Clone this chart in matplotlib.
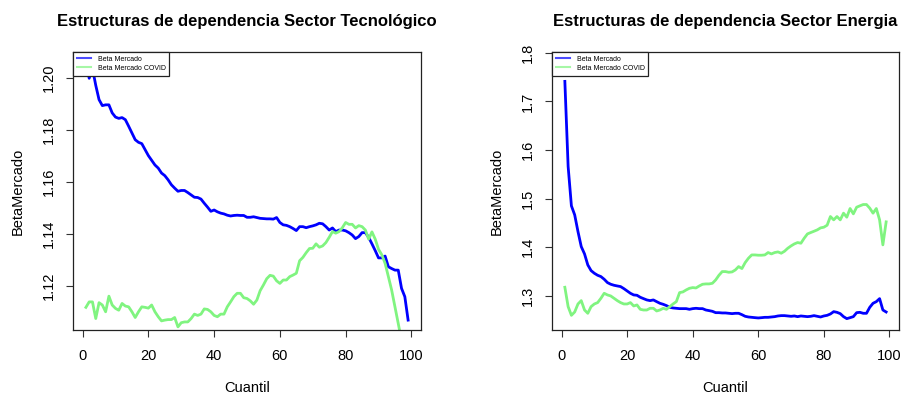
import numpy as np
import matplotlib
matplotlib.use("Agg")
import matplotlib.pyplot as plt

plt.rcParams["font.family"] = ["Liberation Sans", "DejaVu Sans"]

cuantil = np.arange(1, 100)

# Sector Tecnológico: market beta by quantile (full sample vs. COVID period)
tec_beta = [
    1.2063, 1.1997, 1.2035, 1.1970, 1.1915, 1.1892, 1.1895, 1.1895, 1.1864, 1.1848,
    1.1843, 1.1846, 1.1838, 1.1813, 1.1787, 1.1761, 1.1751, 1.1746, 1.1723, 1.1700,
    1.1682, 1.1664, 1.1652, 1.1633, 1.1623, 1.1607, 1.1588, 1.1575, 1.1563, 1.1566,
    1.1566, 1.1558, 1.1549, 1.1540, 1.1539, 1.1533, 1.1517, 1.1502, 1.1486, 1.1491,
    1.1484, 1.1479, 1.1476, 1.1471, 1.1468, 1.1470, 1.1471, 1.1470, 1.1470, 1.1463,
    1.1463, 1.1465, 1.1462, 1.1459, 1.1458, 1.1457, 1.1457, 1.1456, 1.1462, 1.1443,
    1.1434, 1.1432, 1.1427, 1.1420, 1.1412, 1.1427, 1.1427, 1.1423, 1.1427, 1.1430,
    1.1434, 1.1440, 1.1438, 1.1427, 1.1414, 1.1422, 1.1408, 1.1414, 1.1414, 1.1411,
    1.1404, 1.1395, 1.1381, 1.1389, 1.1404, 1.1404, 1.1386, 1.1361, 1.1335, 1.1307,
    1.1307, 1.1314, 1.1273, 1.1266, 1.1260, 1.1260, 1.1190, 1.1158, 1.1068,
]
tec_beta_covid = [
    1.1117, 1.1138, 1.1138, 1.1074, 1.1135, 1.1126, 1.1100, 1.1160, 1.1126, 1.1113,
    1.1106, 1.1132, 1.1122, 1.1119, 1.1100, 1.1078, 1.1100, 1.1119, 1.1117, 1.1114,
    1.1126, 1.1100, 1.1081, 1.1065, 1.1068, 1.1070, 1.1070, 1.1078, 1.1042, 1.1058,
    1.1061, 1.1061, 1.1074, 1.1091, 1.1086, 1.1091, 1.1111, 1.1109, 1.1100, 1.1086,
    1.1081, 1.1091, 1.1091, 1.1119, 1.1138, 1.1158, 1.1171, 1.1171, 1.1154, 1.1151,
    1.1142, 1.1129, 1.1145, 1.1181, 1.1203, 1.1227, 1.1240, 1.1237, 1.1219, 1.1209,
    1.1222, 1.1222, 1.1235, 1.1241, 1.1248, 1.1296, 1.1309, 1.1327, 1.1343, 1.1344,
    1.1361, 1.1348, 1.1353, 1.1366, 1.1386, 1.1408, 1.1402, 1.1408, 1.1423, 1.1443,
    1.1436, 1.1436, 1.1422, 1.1431, 1.1427, 1.1414, 1.1379, 1.1407, 1.1379, 1.1340,
    1.1319, 1.1286, 1.1235, 1.1183, 1.1119, 1.1055, 1.0990, 1.0920, 1.0850,
]

# Sector Energia
ene_beta = [
    1.7412, 1.5660, 1.4849, 1.4663, 1.4320, 1.4010, 1.3859, 1.3632, 1.3515, 1.3460,
    1.3419, 1.3392, 1.3337, 1.3268, 1.3234, 1.3213, 1.3199, 1.3186, 1.3144, 1.3096,
    1.3048, 1.3014, 1.3007, 1.2966, 1.2938, 1.2911, 1.2897, 1.2911, 1.2876, 1.2842,
    1.2821, 1.2794, 1.2759, 1.2746, 1.2739, 1.2732, 1.2732, 1.2732, 1.2718, 1.2732,
    1.2739, 1.2732, 1.2732, 1.2704, 1.2691, 1.2677, 1.2649, 1.2649, 1.2643, 1.2643,
    1.2636, 1.2629, 1.2636, 1.2636, 1.2608, 1.2574, 1.2560, 1.2553, 1.2546, 1.2540,
    1.2546, 1.2553, 1.2553, 1.2560, 1.2567, 1.2581, 1.2588, 1.2588, 1.2581, 1.2574,
    1.2581, 1.2567, 1.2581, 1.2574, 1.2567, 1.2574, 1.2588, 1.2574, 1.2560, 1.2581,
    1.2594, 1.2622, 1.2670, 1.2656, 1.2629, 1.2567, 1.2526, 1.2546, 1.2567, 1.2649,
    1.2656, 1.2636, 1.2636, 1.2759, 1.2842, 1.2876, 1.2938, 1.2704, 1.2663,
]
ene_beta_covid = [
    1.3172, 1.2773, 1.2594, 1.2663, 1.2828, 1.2897, 1.2704, 1.2636, 1.2773, 1.2828,
    1.2856, 1.2945, 1.3048, 1.3014, 1.2993, 1.2945, 1.2897, 1.2856, 1.2828, 1.2828,
    1.2856, 1.2787, 1.2808, 1.2718, 1.2704, 1.2704, 1.2739, 1.2739, 1.2684, 1.2704,
    1.2739, 1.2718, 1.2773, 1.2828, 1.2876, 1.3062, 1.3076, 1.3117, 1.3151, 1.3165,
    1.3158, 1.3199, 1.3234, 1.3241, 1.3241, 1.3254, 1.3323, 1.3419, 1.3495, 1.3495,
    1.3481, 1.3488, 1.3529, 1.3598, 1.3557, 1.3680, 1.3770, 1.3838, 1.3838, 1.3832,
    1.3832, 1.3838, 1.3887, 1.3859, 1.3887, 1.3900, 1.3873, 1.3914, 1.3976, 1.4024,
    1.4065, 1.4093, 1.4079, 1.4182, 1.4271, 1.4299, 1.4326, 1.4354, 1.4395, 1.4409,
    1.4450, 1.4629, 1.4560, 1.4629, 1.4560, 1.4698, 1.4615, 1.4794, 1.4684, 1.4821,
    1.4849, 1.4876, 1.4876, 1.4801, 1.4698, 1.4794, 1.4560, 1.4045, 1.4519,
]

x_ticks = [0, 20, 40, 60, 80, 100]
tec_yticks = [1.12, 1.14, 1.16, 1.18, 1.20]
tec_ylabels = ["1.12", "1.14", "1.16", "1.18", "1.20"]
ene_yticks = [1.3, 1.4, 1.5, 1.6, 1.7, 1.8]
ene_ylabels = ["1.3", "1.4", "1.5", "1.6", "1.7", "1.8"]

titles = ["Estructuras de dependencia Sector Tecnológico",
          "Estructuras de dependencia Sector Energia"]
legend_labels = ["Beta Mercado", "Beta Mercado COVID"]

BLUE = "#0000ff"
GREEN = "#80f480"

W, H = 904, 394
fig = plt.figure(figsize=(W / 100, H / 100), dpi=100)


def px_axes(x0, x1, y0, y1):
    return fig.add_axes([x0 / W, 1 - y1 / H, (x1 - x0) / W, (y1 - y0) / H])


ax1 = px_axes(73, 421, 52, 330)
ax2 = px_axes(552, 899, 52, 330)

panels = [
    (ax1, tec_beta, tec_beta_covid, tec_yticks, tec_ylabels, (1.1030, 1.2098), titles[0]),
    (ax2, ene_beta, ene_beta_covid, ene_yticks, ene_ylabels, (1.2292, 1.8017), titles[1]),
]

for ax, beta, beta_cov, yt, yl, ylim, title in panels:
    ax.plot(cuantil, beta, color=BLUE, lw=2.0, label=legend_labels[0])
    ax.plot(cuantil, beta_cov, color=GREEN, lw=2.0, label=legend_labels[1])
    ax.set_xlim(-2.92, 102.92)
    ax.set_ylim(*ylim)
    ax.set_xticks(x_ticks)
    ax.set_xticklabels([str(v) for v in x_ticks])
    ax.set_yticks(yt)
    ax.set_yticklabels(yl, rotation=90, va="center")
    ax.tick_params(axis="both", labelsize=10.5, length=5, width=0.8, color="#333333")
    ax.tick_params(axis="x", pad=9)
    ax.tick_params(axis="y", pad=7)
    for sp in ax.spines.values():
        sp.set_linewidth(0.9)
        sp.set_color("#222222")
    ax.set_title(title, fontsize=12, fontweight="bold", pad=0, y=1 + 26 / 278, va="baseline")
    ax.set_xlabel("Cuantil", fontsize=10.5)
    ax.xaxis.set_label_coords(0.5, -0.185)
    ax.set_ylabel("BetaMercado", fontsize=10.5)
    ax.yaxis.set_label_coords(-0.139, 0.5)
    leg = ax.legend(loc="upper left", bbox_to_anchor=(0, 1), borderaxespad=0,
                    fontsize=5, frameon=True, fancybox=False, framealpha=1,
                    edgecolor="#222222", handlelength=2.0, handletextpad=1.0,
                    borderpad=0.55, labelspacing=0.3)
    leg.get_frame().set_linewidth(0.9)
    for h in leg.get_lines():
        h.set_linewidth(1.5)
        h.set_alpha(0.7)

fig.savefig("out.png", dpi=100, facecolor="white")
